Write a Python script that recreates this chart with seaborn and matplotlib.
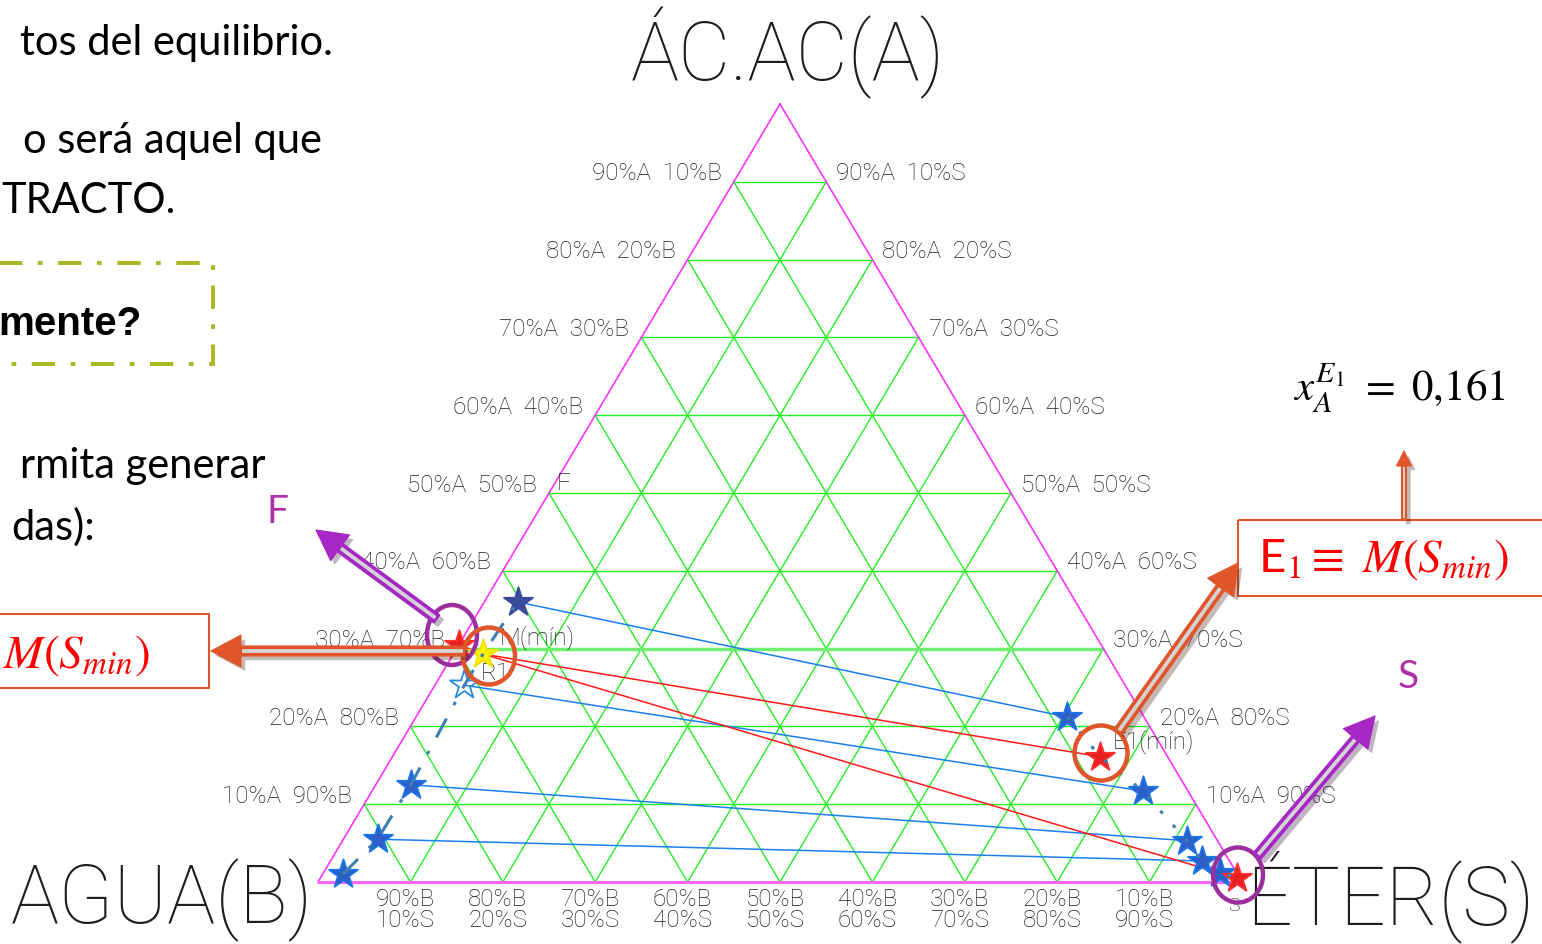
import numpy as np
import pandas as pd
import matplotlib.pyplot as plt
import matplotlib.patheffects as pe
from matplotlib.patches import Ellipse, Rectangle, FancyArrowPatch
import seaborn as sns

R_A = [0.010, 0.055, 0.125, 0.253, 0.293, 0.360]     # rama del refinado
R_S = [0.022, 0.037, 0.038, 0.032, 0.032, 0.036]
R_TIPO = ["azul", "azul", "azul", "hueca", "amarilla", "marino"]
E_A = [0.212, 0.161, 0.117, 0.053, 0.027, 0.012, 0.005]   # rama del extracto
E_S = [0.705, 0.766, 0.834, 0.914, 0.943, 0.970, 0.992]
E_TIPO = ["azul", "roja", "azul", "azul", "azul", "azul", "roja"]
TIE_R = [5, 3, 2, 1]          # rectas de reparto: índice refinado -> extracto
TIE_E = [0, 2, 3, 4]
ROJAS = [(4, 1), (4, 6)]      # M(mín) -> E1 y M(mín) -> S
F_A, F_S = 0.305, 0.0
PCT = [10, 20, 30, 40, 50, 60, 70, 80, 90]
X_E1 = "0,161"

# ── Estilo ────────────────────────────────────────────────────────────────────
sns.set_theme(style="white")
plt.rcParams["mathtext.fontset"] = "stix"
CAD = dict(family=["Roboto", "DejaVu Sans"], fontweight="light", color="#1e1e1e")
SLIDE = ["Lato", "DejaVu Sans"]
VERDE, MAGENTA = "#22ee22", "#ff33ff"
AZUL, ROJO = "#1a7ff0", "#ff1a1a"
NARANJA, MORADO, MORADO_C = "#e0562a", "#a626c6", "#9c2f9e"

VA, VB, VS = (780, 105), (318, 883), (1242, 883)


def tern(a, s):
    a, s = np.asarray(a, float), np.asarray(s, float)
    b = 1 - a - s
    return VB[0]*b + VS[0]*s + VA[0]*a, VB[1]*b + VS[1]*s + VA[1]*a


fig = plt.figure(figsize=(15.42, 9.45), dpi=100)
ax = fig.add_axes([0, 0, 1, 1])
ax.set_xlim(0, 1542)
ax.set_ylim(945, 0)
ax.axis("off")

# ── Rejilla triangular ────────────────────────────────────────────────────────
for p in PCT:
    f = p / 100
    for (a0, s0), (a1, s1) in [((f, 0), (f, 1 - f)), ((0, f), (1 - f, f)), ((0, 1 - f), (1 - f, 0))]:
        x, y = tern([a0, a1], [s0, s1])
        ax.plot(x, y, color=VERDE, lw=1, zorder=1)
x, y = tern([0.3, 0.3], [0, 0.7])
ax.plot(x, y, color="#70f070", lw=2.5, zorder=1)
x, y = tern([1, 0, 0, 1], [0, 0, 1, 0])
ax.plot(x, y, color=MAGENTA, lw=1.2, zorder=2)
x, y = tern([0, 0], [0, 1])
ax.plot(x, y, color="#ff66ff", lw=2.2, zorder=2)

# etiquetas de la rejilla
for p in PCT:
    f = p / 100
    xl, yl = tern(f, 0)
    ax.text(xl - 12, yl - 9, f"{p}%A  {100 - p}%B", ha="right", va="center", fontsize=17.5, **CAD)
    xr, yr = tern(f, 1 - f)
    ax.text(xr + 10, yr - 9, f"{p}%A  {100 - p}%S", ha="left", va="center", fontsize=17.5, **CAD)
    xb, yb = tern(0, f)
    ax.text(xb - 5, yb + 27, f"{100 - p}%B\n{p}%S", ha="center", va="center",
            fontsize=17.5, linespacing=0.85, **CAD)

ax.text(788, 53, "ÁC.AC(A)", ha="center", va="center", fontsize=58, **CAD)
ax.text(162, 900, "AGUA(B)", ha="center", va="center", fontsize=58, **CAD)
ax.text(1390, 897, "ÉTER(S)", ha="center", va="center", fontsize=58, **CAD)

# ── Rectas de reparto ─────────────────────────────────────────────────────────
rx, ry = tern(R_A, R_S)
ex, ey = tern(E_A, E_S)
for i, j in zip(TIE_R, TIE_E):
    ax.plot([rx[i], ex[j]], [ry[i], ey[j]], color=AZUL, lw=1.1, zorder=3)
for i, j in ROJAS:
    ax.plot([rx[i], ex[j]], [ry[i], ey[j]], color=ROJO, lw=1.1, zorder=3)
fx, fy = tern(F_A, F_S)
ax.plot([fx, rx[4]], [fy, ry[4]], color=ROJO, lw=1.1, zorder=3)

# ── Puntos de equilibrio ──────────────────────────────────────────────────────
puntos = pd.concat([
    pd.DataFrame({"x": rx, "y": ry, "tipo": R_TIPO}),
    pd.DataFrame({"x": ex, "y": ey, "tipo": E_TIPO}),
    pd.DataFrame({"x": [fx], "y": [fy], "tipo": ["roja"]}),
])
estilos = {
    "azul": ("#2d5fc4", "#1a73e8"),
    "marino": ("#3b4a9a", "#3b4a9a"),
    "roja": ("#e82020", "#ff3030"),
    "amarilla": ("#fff200", "#f0e000"),
    "hueca": ("none", "#2a8ae0"),
}
for tipo, (fc, ec) in estilos.items():
    sub = puntos[puntos["tipo"] == tipo]
    sns.scatterplot(data=sub, x="x", y="y", marker="*", s=480, color=fc,
                    edgecolor=ec, linewidth=1.3, ax=ax, zorder=5, legend=False)

# curvas de equilibrio (dash-dot)
ax.plot(rx, ry, color="#3d7fb0", lw=2.2, ls=(0, (7, 5, 1.2, 5)), zorder=6)
ax.plot(ex, ey, color="#3d7fb0", lw=2.2, ls=(0, (1.2, 5)), zorder=6)

ax.text(rx[4] + 17, ry[4] - 17, "M(mín)", ha="left", va="center", fontsize=17.5, **CAD)
ax.text(rx[4] - 2, ry[4] + 18, "R1", ha="left", va="center", fontsize=17.5, **CAD)
ax.text(ex[1] + 12, ey[1] - 16, "E1(mín)", ha="left", va="center", fontsize=17.5, **CAD)
ax.text(1234, 906, "S", ha="center", va="center", fontsize=14, **CAD)
xf, yf = tern(0.5, 0)
ax.text(xf + 8, yf - 10, "F", ha="left", va="center", fontsize=17.5, **CAD)

# ── Círculos de resalte ───────────────────────────────────────────────────────
for (cx, cy), w, h, col in [((452, 636), 50, 60, MORADO_C), ((489, 657), 52, 57, NARANJA),
                            ((1101, 754), 53, 55, NARANJA), ((1238, 876), 50, 55, MORADO_C)]:
    ax.add_patch(Ellipse((cx, cy), w, h, fill=False, ec=col, lw=3.2, zorder=7))


# ── Flechas de doble línea ────────────────────────────────────────────────────
def flecha(x0, y0, x1, y1, color, ancho=10, cabeza=32, largo=30):
    k = 1 / 1.389
    estilo = (f"simple,head_length={largo*k:.1f},head_width={cabeza*k:.1f},"
              f"tail_width={ancho*k:.1f}")
    ax.add_patch(FancyArrowPatch((x0, y0), (x1, y1), arrowstyle=estilo, mutation_scale=1,
                                 shrinkA=0, shrinkB=0, fc=color, ec=color, lw=0.8, zorder=8,
                                 path_effects=[pe.SimplePatchShadow(offset=(3, -3), alpha=0.3),
                                               pe.Normal()]))
    d = np.hypot(x1 - x0, y1 - y0)
    ux, uy = (x1 - x0) / d, (y1 - y0) / d
    ax.plot([x0 + ux*2, x1 - ux*(largo + 1)], [y0 + uy*2, y1 - uy*(largo + 1)],
            color="#d4d4d4", lw=ancho*0.38*k, solid_capstyle="butt", zorder=9)


flecha(465, 652, 211, 652, NARANJA)
flecha(437, 620, 316, 531, MORADO)
flecha(1118, 733, 1238, 564, NARANJA)
flecha(1257, 857, 1375, 717, MORADO)
flecha(1404, 521, 1404, 452, NARANJA, ancho=5, cabeza=15, largo=15)

ax.text(278, 512, "F", ha="center", va="center", fontsize=28, color="#b030a8", family=SLIDE)
ax.text(1408, 677, "S", ha="center", va="center", fontsize=28, color="#b030a8", family=SLIDE)

# ── Texto de la diapositiva ───────────────────────────────────────────────────
for txt, xr, yb in [("tos del equilibrio.", 333, 55), ("o será aquel que", 322, 153),
                    ("rmita generar", 265, 478), ("das):", 95, 540)]:
    ax.text(xr, yb, txt, ha="right", va="baseline", fontsize=30, color="black", family=SLIDE)
ax.text(1, 213, "TRACTO.", ha="left", va="baseline", fontsize=30, color="black", family=SLIDE)
ax.text(-2, 335, "mente?", ha="left", va="baseline", fontsize=29, fontweight="bold",
        color="black", family=["Liberation Sans", "DejaVu Sans"])
ax.add_patch(Rectangle((-10, 264), 223, 101, fill=False, ec="#a8b820", lw=2.8,
                       ls=(0, (6, 4, 1.2, 4)), zorder=2))

ax.add_patch(Rectangle((-10, 615), 219, 74, fill=False, ec=NARANJA, lw=1.5, zorder=2))
ax.text(150, 655, r"$M(S_{min})$", ha="right", va="center", fontsize=34, color="red")
ax.add_patch(Rectangle((1238, 521), 320, 76, fill=False, ec=NARANJA, lw=1.5, zorder=2))
ax.text(1258, 560, r"E$_{1}$$\equiv$ $M(S_{min})$", ha="left", va="center", fontsize=34,
        color="red", family=SLIDE)
ax.text(1293, 388, r"$x_A^{E_1}$ $=$ " + X_E1, ha="left", va="center", fontsize=31,
        color="black", family=["STIXGeneral", "DejaVu Serif"])

fig.savefig("out.png", dpi=100)
